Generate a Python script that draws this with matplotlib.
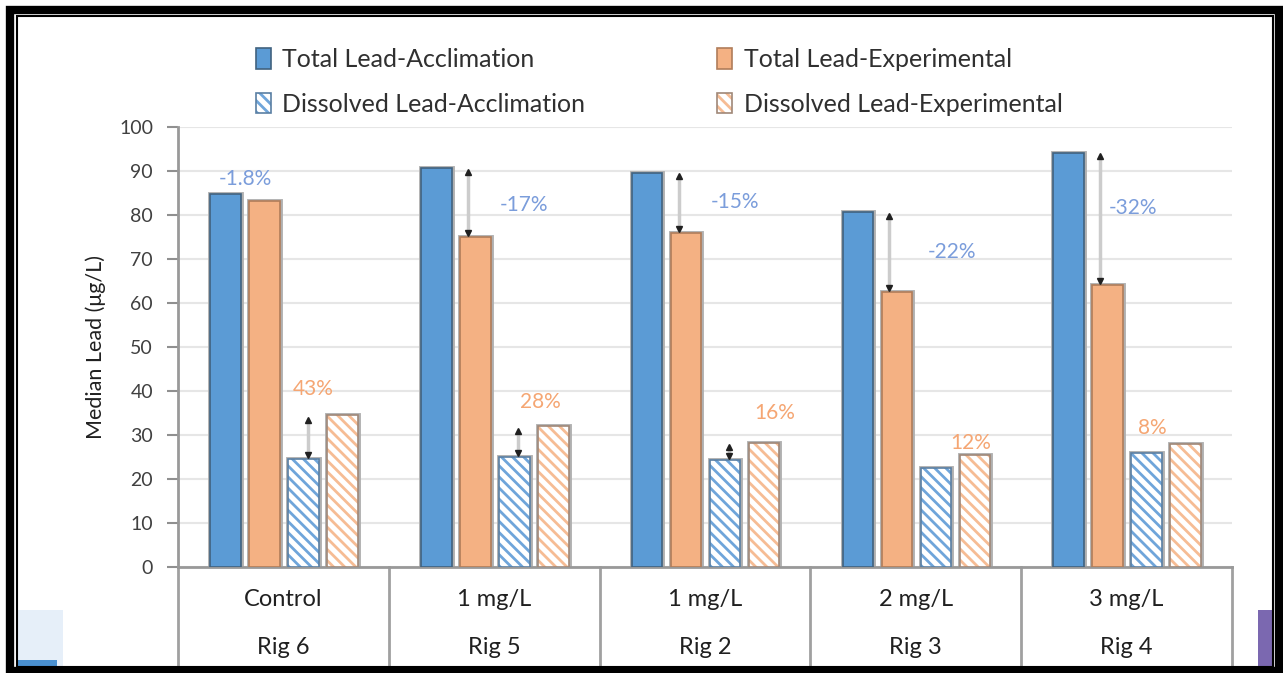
import matplotlib.pyplot as plt
from matplotlib.patches import Rectangle
import numpy as np

# Values
treatments = ['Control', '1 mg/L', '1 mg/L', '2 mg/L', '3 mg/L']
rigs = ['Rig 6', 'Rig 5', 'Rig 2', 'Rig 3', 'Rig 4']
total_accl = [84.7, 90.6, 89.6, 80.6, 94.2]
total_exp = [83.2, 75.0, 75.9, 62.6, 64.0]
diss_accl = [24.5, 25.0, 24.3, 22.6, 25.9]
diss_exp = [34.5, 32.0, 28.2, 25.5, 28.0]
total_pct = ['-1.8%', '-17%', '-15%', '-22%', '-32%']
diss_pct = ['43%', '28%', '16%', '12%', '8%']
total_pct_y = [88.2, 82.3, 83.0, 71.6, 81.6]
diss_pct_y = [40.5, 37.5, 35.0, 28.2, 31.6]
total_arrow = [False, True, True, True, True]
diss_arrow = [True, True, True, False, False]

plt.rcParams['font.family'] = ['Lato', 'DejaVu Sans']
plt.rcParams['hatch.linewidth'] = 2.0

W, H = 1283, 673
fig = plt.figure(figsize=(W / 100, H / 100), dpi=100)
ax = fig.add_axes([178 / W, 1 - 567 / H, (1232 - 178) / W, (567 - 127) / H])

x = np.arange(len(rigs))
bw = 0.145
offs = [-0.275, -0.09, 0.095, 0.28]

blue = '#5b9bd5'
orange = '#f4b183'
halo = '#b0b0b0'


def draw_bars(pos, vals, face, edge, hatch=None, hatch_color=None, label=None):
    # grey glow round each bar, then the bar itself
    ax.bar(pos, vals, bw, color='none', edgecolor=halo, linewidth=3.5, zorder=2)
    if hatch:
        # hatch takes the edge colour, so draw it as its own layer
        ax.bar(pos, vals, bw, color=face, edgecolor=hatch_color, linewidth=0,
               hatch=hatch, zorder=3)
        ax.bar(pos, vals, bw, color='none', edgecolor=edge, linewidth=1.2, zorder=3.5)
        h1 = Rectangle((0, 0), 1, 1, facecolor=face, edgecolor=hatch_color, hatch=hatch, linewidth=0)
        h2 = Rectangle((0, 0), 1, 1, facecolor='none', edgecolor=edge, linewidth=1.2)
        return (h1, h2)
    return ax.bar(pos, vals, bw, color=face, edgecolor=edge, linewidth=1.2,
                  zorder=3, label=label)


b1 = draw_bars(x + offs[0], total_accl, blue, '#41627f')
b2 = draw_bars(x + offs[1], total_exp, orange, '#b07d5a')
b3 = draw_bars(x + offs[2], diss_accl, 'white', '#5a7fa3', hatch='\\\\\\', hatch_color='#6fa5da')
b4 = draw_bars(x + offs[3], diss_exp, 'white', '#a08878', hatch='\\\\\\', hatch_color='#f6bc94')

# arrows and percent labels
for i in range(len(rigs)):
    if total_arrow[i]:
        ax_x = x[i] + offs[1] - 0.035
        top = total_accl[i] - 0.8
        bot = total_exp[i] + 0.9
        ax.plot([ax_x, ax_x], [top, bot], color='#cccccc', lw=2.5, zorder=4)
        ax.plot(ax_x, top, marker='^', color='#202020', ms=4, zorder=5)
        ax.plot(ax_x, bot, marker='v', color='#202020', ms=4, zorder=5)
    if diss_arrow[i]:
        ax_x = x[i] + offs[2] + 0.02
        top = diss_exp[i] - 1.0
        bot = diss_accl[i] + 0.9
        ax.plot([ax_x, ax_x], [top, bot], color='#cccccc', lw=2.5, zorder=4)
        ax.plot(ax_x, top, marker='^', color='#202020', ms=4, zorder=5)
        ax.plot(ax_x, bot, marker='v', color='#202020', ms=4, zorder=5)

total_pct_x = [-0.18, 0.14, 0.14, 0.17, 0.03]
diss_pct_x = [0.14, 0.22, 0.33, 0.26, 0.12]
for i in range(len(rigs)):
    ax.text(x[i] + total_pct_x[i], total_pct_y[i], total_pct[i], color='#7b9ddb',
            fontsize=15, ha='center', va='center', zorder=6)
    ax.text(x[i] + diss_pct_x[i], diss_pct_y[i], diss_pct[i], color='#f5a673',
            fontsize=15, ha='center', va='center', zorder=6)

ax.set_xlim(-0.5, len(rigs) - 0.5)
ax.set_ylim(0, 100)
ax.set_yticks(range(0, 101, 10))
ax.yaxis.grid(True, color='#e6e6e6', lw=1.5, zorder=0)
ax.set_axisbelow(True)
ax.set_xticks([])
ax.tick_params(axis='y', length=8, width=1.5, color='#909090', labelsize=14,
               labelcolor='#404040', pad=10)
for s in ['top', 'right']:
    ax.spines[s].set_visible(False)
for s in ['left', 'bottom']:
    ax.spines[s].set_color('#999999')
    ax.spines[s].set_linewidth(2)
ax.set_ylabel('Median Lead (μg/L)', fontsize=15.5, color='#202020', labelpad=9)

# two-level category axis
trans = ax.get_xaxis_transform()
for b in np.arange(len(rigs) + 1) - 0.5:
    ax.plot([b, b], [0, -0.223], color='#a0a0a0', lw=2, transform=trans, clip_on=False)
for i in range(len(rigs)):
    ax.text(x[i], -0.075, treatments[i], transform=trans, ha='center', va='center',
            fontsize=17, color='#202020')
    ax.text(x[i], -0.182, rigs[i], transform=trans, ha='center', va='center',
            fontsize=17, color='#202020')

labels = ['Total Lead-Acclimation', 'Dissolved Lead-Acclimation',
          'Total Lead-Experimental', 'Dissolved Lead-Experimental']
fig.legend([b1, b3, b2, b4], labels, ncol=2, loc='center', bbox_to_anchor=(659 / W, 1 - 82 / H),
           frameon=False, fontsize=18, handlelength=0.6, handleheight=0.9, handletextpad=0.45,
           columnspacing=5.3, labelspacing=0.85, labelcolor='#303030')

# frame round the picture and the cropped bits at the bottom corners
ftr = fig.transFigure


def box(x0, y0, x1, y1, **kw):
    fig.patches.append(Rectangle((x0 / W, 1 - y1 / H), (x1 - x0) / W, (y1 - y0) / H,
                                 transform=ftr, **kw))


box(17, 610, 63, 667, facecolor='#e6eff9', edgecolor='none')
box(17, 660, 57, 667, facecolor='#4a90d0', edgecolor='none')
box(1258, 610, 1273, 667, facecolor='#7b68b0', edgecolor='none')
box(10, 10, 1279, 671, facecolor='none', edgecolor='black', linewidth=6)
box(17, 16, 1273, 667, facecolor='none', edgecolor='black', linewidth=1.5)

fig.savefig('out.png', dpi=100)
